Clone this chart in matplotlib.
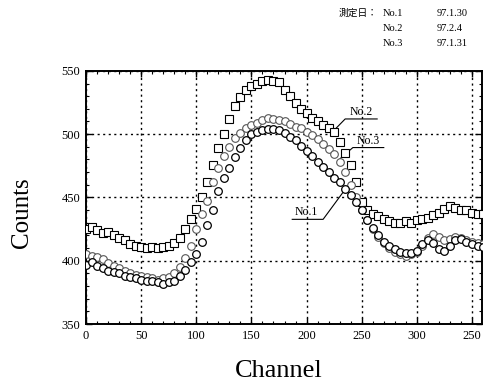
import matplotlib
matplotlib.use("Agg")
import matplotlib.pyplot as plt
from matplotlib.ticker import MultipleLocator, FixedLocator

channels = list(range(0, 361, 5))

no2_counts = [425, 427, 424, 422, 423, 420, 418, 416, 413, 412, 411, 410, 411, 410, 411,
              412, 414, 418, 425, 433, 441, 450, 462, 476, 489, 500, 512, 522, 529, 535,
              538, 540, 542, 543, 542, 541, 535, 530, 525, 520, 517, 513, 510, 507, 505,
              502, 494, 485, 476, 462, 446, 440, 437, 435, 433, 431, 430, 430, 431, 430,
              432, 433, 434, 436, 438, 441, 443, 442, 440, 440, 438, 437, 437]

no3_counts = [405, 404, 403, 401, 398, 396, 394, 392, 390, 389, 388, 387, 386, 385, 386,
              387, 390, 395, 402, 412, 425, 437, 447, 462, 473, 483, 490, 497, 501, 505,
              507, 509, 511, 513, 512, 511, 510, 508, 506, 505, 502, 499, 496, 492, 488,
              484, 478, 470, 460, 450, 440, 432, 425, 419, 414, 410, 407, 405, 404, 405,
              407, 412, 418, 421, 419, 416, 417, 419, 418, 416, 415, 414, 413]

no1_counts = [397, 399, 396, 394, 392, 391, 390, 388, 387, 386, 385, 384, 384, 383, 382,
              383, 384, 388, 393, 399, 405, 415, 428, 440, 455, 465, 473, 482, 489, 495,
              500, 502, 503, 504, 504, 503, 501, 498, 495, 491, 487, 483, 478, 474, 470,
              465, 462, 457, 452, 446, 440, 432, 426, 420, 415, 412, 409, 407, 406, 406,
              408, 413, 416, 414, 409, 408, 412, 416, 417, 415, 413, 412, 411]

x_ticks = [0, 50, 100, 150, 200, 250, 300, 350]
x_tick_labels = ["0", "50", "100", "150", "200", "250", "300", "250"]
y_ticks = [350, 400, 450, 500, 550]

header_rows = [("測定日：", "No.1", "97.1.30"),
               ("", "No.2", "97.2.4"),
               ("", "No.3", "97.1.31")]

serif = ["Liberation Serif", "DejaVu Serif"]

fig = plt.figure(figsize=(4.84, 3.83), dpi=100)
ax = fig.add_axes([0.1777, 0.154, 0.818, 0.661])

ms = 5.5
ax.plot(channels, no2_counts, ls="none", marker="s", ms=ms, mfc="white", mec="black", mew=0.8, zorder=3)
ax.plot(channels, no3_counts, ls="none", marker="o", ms=ms, mfc="white", mec="#555555", mew=0.8, zorder=3)
ax.plot(channels, no1_counts, ls="none", marker="o", ms=ms, mfc="white", mec="black", mew=0.9, zorder=4)

ax.set_xlim(0, 359)
ax.set_ylim(350, 550)
ax.xaxis.set_major_locator(FixedLocator(x_ticks))
ax.set_xticklabels(x_tick_labels)
ax.yaxis.set_major_locator(FixedLocator(y_ticks))
ax.xaxis.set_minor_locator(MultipleLocator(10))
ax.yaxis.set_minor_locator(MultipleLocator(10))
ax.tick_params(which="both", direction="in", top=True, right=True, colors="black")
ax.tick_params(which="major", length=4, width=1, labelsize=9, pad=4)
ax.tick_params(which="minor", length=2, width=0.8)
for lab in ax.get_xticklabels() + ax.get_yticklabels():
    lab.set_family(serif)
for s in ax.spines.values():
    s.set_linewidth(1.4)
ax.grid(True, which="major", ls=(0, (1.5, 2.5)), color="black", lw=1.0)

fig.text(0.576, 0.016, "Channel", family=serif, fontsize=19, ha="center", va="baseline")
fig.text(0.045, 0.444, "Counts", family=serif, fontsize=18, ha="center", va="center", rotation=90)

# annotations with leader lines
lab_kw = dict(family=serif, fontsize=8.5, ha="center", va="bottom")
ax.text(250, 512.5, "No.2", **lab_kw)
ax.plot([264, 235, 226], [512, 512, 504], color="black", lw=0.8)
ax.text(256, 490, "No.3", **lab_kw)
ax.plot([270, 242, 230.5], [489.4, 489.4, 480.7], color="black", lw=0.8)
ax.text(200, 433.5, "No.1", **lab_kw)
ax.plot([187, 215, 233], [432.7, 432.7, 454], color="black", lw=0.8)

# header
hdr_y = [0.966, 0.926, 0.886]
for (a, b, c), y in zip(header_rows, hdr_y):
    if a:
        fig.text(0.781, y, a, family=["Noto Sans CJK JP", "DejaVu Sans"], fontsize=7, ha="right", va="center")
    fig.text(0.790, y, b, family=serif, fontsize=7.5, ha="left", va="center")
    fig.text(0.903, y, c, family=serif, fontsize=7.5, ha="left", va="center")

fig.savefig("out.png", dpi=100)
